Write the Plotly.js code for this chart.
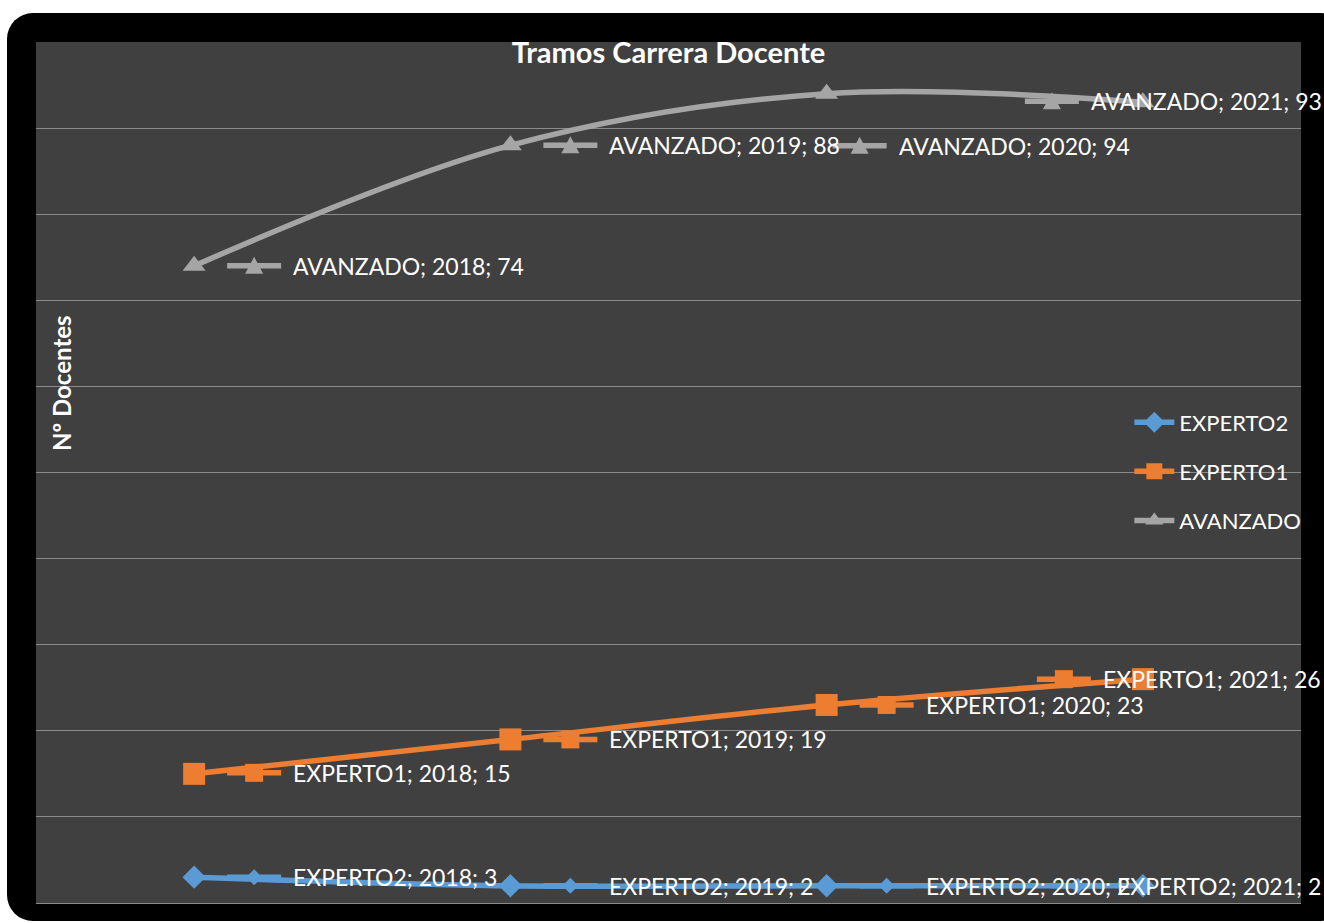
<!DOCTYPE html>
<html>
<head>
<meta charset="utf-8">
<script src="https://cdn.plot.ly/plotly-3.0.1.min.js"></script>
<style>
  html, body { margin: 0; padding: 0; background: #ffffff; overflow: hidden; }
  #frame { position: absolute; left: 7px; top: 13px; width: 1340px; height: 908px; background: #000000; border-radius: 26px; }
  #chart { position: absolute; left: 0; top: 0; width: 1324px; height: 923px; }
</style>
</head>
<body>
<div id="frame"></div>
<div id="chart"></div>
<script>
// ---- data ----
const years = ['2018', '2019', '2020', '2021'];
const experto2 = [3, 2, 2, 2];
const experto1 = [15, 19, 23, 26];
const avanzado = [74, 88, 94, 93];
const seriesNames = ['EXPERTO2', 'EXPERTO1', 'AVANZADO'];
const chartTitle = 'Tramos Carrera Docente';
const yTitle = 'Nº Docentes';

// ---- styles ----
const seriesValues = [experto2, experto1, avanzado];
const colors = ['#5b9bd5', '#ed7d31', '#a5a5a5'];
const symbols = ['diamond', 'square', 'triangle-up'];
const markerSizes = [18, 22, 20];
const fontFam = 'Lato, "Open Sans", sans-serif';

// data-label placement (pixel offsets of the label key marker from its point; +dy is up)
const labelOffsets = [
  [[60, 0], [60, 0], [60, 0], [-65, 0]],
  [[60, 1], [60, 0], [60, 0], [-79, 0]],
  [[60, 0], [60, 0], [33, -52], [-91, 1]]
];

function keyPath(kind) {
  if (kind === 'diamond') return 'M -8 0 L 0 8 L 8 0 L 0 -8 Z';
  if (kind === 'square') return 'M -9 -9 L 9 -9 L 9 9 L -9 9 Z';
  return 'M -9 -8 L 9 -8 L 0 9 Z';
}

const traces = seriesNames.map((name, i) => ({
  type: 'scatter',
  mode: 'lines+markers',
  name: name,
  legendgroup: name,
  x: years,
  y: seriesValues[i],
  line: { color: colors[i], width: 5.5, shape: 'spline', smoothing: 1 },
  marker: { symbol: symbols[i], size: markerSizes[i], color: colors[i] },
  cliponaxis: false,
  hoverinfo: 'x+y+name'
}));

const shapes = [];
const annotations = [];
seriesNames.forEach((name, i) => {
  years.forEach((yr, j) => {
    const v = seriesValues[i][j];
    const [dx, dy] = labelOffsets[i][j];
    shapes.push({
      type: 'line', xref: 'x', yref: 'y',
      xsizemode: 'pixel', ysizemode: 'pixel',
      xanchor: j, yanchor: v,
      x0: dx - 27, x1: dx + 27, y0: dy, y1: dy,
      line: { color: colors[i], width: 5.5 }, layer: 'above'
    });
    shapes.push({
      type: 'path', xref: 'x', yref: 'y',
      xsizemode: 'pixel', ysizemode: 'pixel',
      xanchor: j, yanchor: v,
      path: keyPath(symbols[i]).replace(/(-?\d+) (-?\d+)/g, (m, a, b) => (Number(a) + dx) + ' ' + (Number(b) + dy)),
      fillcolor: colors[i], line: { width: 0 }, layer: 'above'
    });
    annotations.push({
      xref: 'x', yref: 'y', x: j, y: v,
      xanchor: 'left', yanchor: 'middle',
      xshift: dx + 37, yshift: dy,
      text: name + '; ' + yr + '; ' + v,
      showarrow: false,
      font: { family: fontFam, size: 23, color: '#ffffff' }
    });
  });
});

annotations.push({
  xref: 'paper', yref: 'paper', x: 0, y: 0.604,
  xshift: 26, xanchor: 'center', yanchor: 'middle',
  textangle: -90, showarrow: false,
  text: '<b>' + yTitle + '</b>',
  font: { family: fontFam, size: 24, color: '#ffffff' }
});

const layout = {
  width: 1324, height: 923,
  margin: { l: 36, r: 23, t: 42, b: 20 },
  paper_bgcolor: 'rgba(0,0,0,0)',
  plot_bgcolor: '#404040',
  title: {
    text: '<b>' + chartTitle + '</b>',
    xref: 'paper', x: 0.5, xanchor: 'center',
    yref: 'container', y: 1 - 53 / 923, yanchor: 'middle',
    font: { family: fontFam, size: 29, color: '#ffffff' }
  },
  xaxis: {
    type: 'category', range: [-0.5, 3.5],
    showticklabels: false, showgrid: false, zeroline: false,
    showline: true, linecolor: '#8a8a8a', linewidth: 1, ticks: ''
  },
  yaxis: {
    range: [0, 100], dtick: 10, showticklabels: false,
    showgrid: true, gridcolor: '#8a8a8a', gridwidth: 1,
    zeroline: false, ticks: ''
  },
  showlegend: true,
  legend: {
    x: 0.8643, xanchor: 'left', y: 0.5825, yanchor: 'top',
    bgcolor: 'rgba(0,0,0,0)', borderwidth: 0,
    traceorder: 'grouped', tracegroupgap: 17.5,
    font: { family: fontFam, size: 22, color: '#ffffff' },
    itemwidth: 40
  },
  shapes: shapes,
  annotations: annotations
};

Plotly.newPlot('chart', traces, layout, { displayModeBar: false, staticPlot: true });
</script>
</body>
</html>
